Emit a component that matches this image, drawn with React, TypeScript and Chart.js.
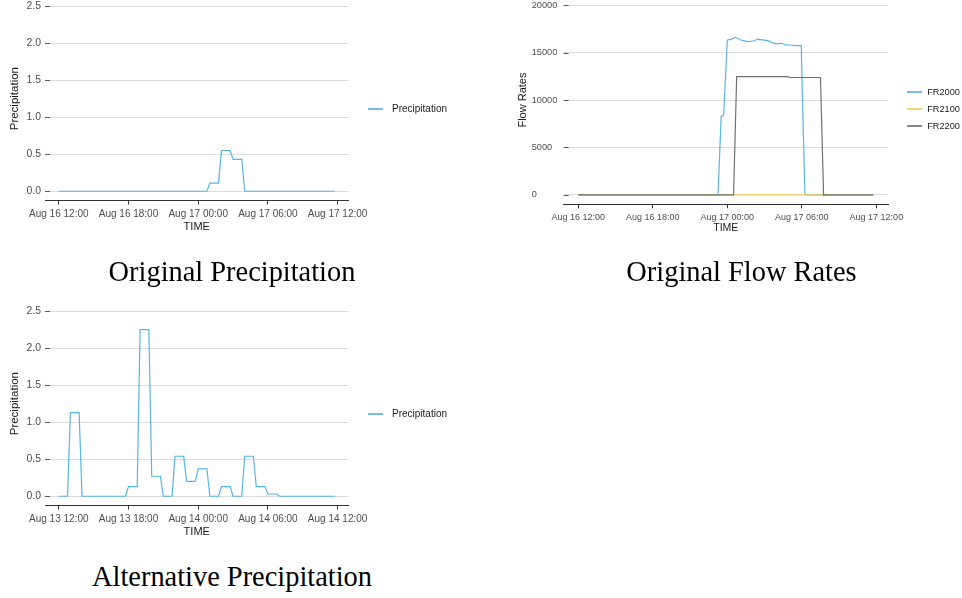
import React, { useEffect, useRef } from 'react';
import { Chart, registerables } from 'chart.js';

Chart.register(...registerables);

// ---------- data ----------
const X_TICK_HOURS = [0, 6, 12, 18, 24];
const ORIG_X_TICK_LABELS = ['Aug 16 12:00', 'Aug 16 18:00', 'Aug 17 00:00', 'Aug 17 06:00', 'Aug 17 12:00'];
const ALT_X_TICK_LABELS = ['Aug 13 12:00', 'Aug 13 18:00', 'Aug 14 00:00', 'Aug 14 06:00', 'Aug 14 12:00'];
const PRECIP_Y_TICKS = [0, 0.5, 1, 1.5, 2, 2.5];
const PRECIP_Y_LABELS = ['0.0', '0.5', '1.0', '1.5', '2.0', '2.5'];
const FLOW_Y_TICKS = [0, 5000, 10000, 15000, 20000];
const FLOW_Y_LABELS = ['0', '5000', '10000', '15000', '20000'];

// hours after the first time stamp (12:00)
const origPrecipHours = [0, 12.75, 13, 13.75, 14, 14.75, 15, 15.75, 16, 23.75];
const origPrecipValues = [0, 0, 0.11, 0.11, 0.55, 0.55, 0.43, 0.43, 0, 0];

const fr2000Hours = [0, 11.25, 11.5, 11.7, 12, 12.3, 12.65, 13.1, 13.65, 14.05, 14.45, 14.85, 15.25, 15.6, 15.95, 16.35, 16.7, 17.1, 17.5, 17.95, 18.05, 18.25, 23.75];
const fr2000Values = [0, 0, 8250, 8400, 16340, 16410, 16620, 16340, 16160, 16230, 16410, 16340, 16270, 16060, 15920, 15990, 15810, 15810, 15740, 15740, 10000, 0, 0];
const fr2100Hours = [0, 23.75];
const fr2100Values = [0, 0];
const fr2200Hours = [0, 12.5, 12.75, 16.85, 17.0, 19.5, 19.75, 23.75];
const fr2200Values = [0, 0, 12470, 12470, 12400, 12380, 0, 0];

const altPrecipHours = [0, 0.75, 1, 1.75, 2, 5.75, 6, 6.75, 7, 7.75, 8, 8.75, 9, 9.75, 10, 10.75, 11, 11.75, 12, 12.75, 13, 13.75, 14, 14.75, 15, 15.75, 16, 16.75, 17, 17.75, 18, 18.75, 19, 23.75];
const altPrecipValues = [0, 0, 1.13, 1.13, 0, 0, 0.13, 0.13, 2.25, 2.25, 0.27, 0.27, 0, 0, 0.54, 0.54, 0.2, 0.2, 0.37, 0.37, 0, 0, 0.13, 0.13, 0, 0, 0.54, 0.54, 0.13, 0.13, 0.03, 0.03, 0, 0];

const BLUE = '#56B4E9';
const YELLOW = '#F3CF55';
const GREY = '#707070';

const FONT = '"Liberation Sans", Arial, Helvetica, sans-serif';
const SERIF = '"Liberation Serif", "DejaVu Serif", serif';

type Series = { label: string; hours: number[]; values: number[]; color: string; order: number };

interface PanelSpec {
  left: number; top: number; width: number; height: number;
  pad: { left: number; right: number; top: number; bottom: number };
  yWidth: number; xHeight: number;
  yMin: number; yMax: number; yTicks: number[]; yTickLabels: string[];
  xTickLabels: string[];
  yTitle: string; yTitleSize: number; yTitlePad: number;
  xTitleSize: number; yTickSize: number; xTickSize: number; xTickPad: number; yTickPad: number;
  yCrossAlign: 'near' | 'far';
  series: Series[];
}

const yTickMarks = {
  id: 'yTickMarks',
  afterDraw(chart: any) {
    const y = chart.scales.y;
    const { ctx, chartArea } = chart;
    ctx.save();
    ctx.strokeStyle = '#5a5a5a';
    ctx.lineWidth = 1;
    y.ticks.forEach((t: any) => {
      const py = Math.round(y.getPixelForValue(t.value)) + 0.5;
      ctx.beginPath();
      ctx.moveTo(chartArea.left, py);
      ctx.lineTo(chartArea.left + 5, py);
      ctx.stroke();
    });
    ctx.restore();
  },
};

function Panel({ spec }: { spec: PanelSpec }) {
  const ref = useRef<HTMLCanvasElement | null>(null);
  useEffect(() => {
    const canvas = ref.current;
    if (!canvas) return;
    const span = Math.max(...spec.series.map((s) => Math.max(...s.hours)));
    const chart = new Chart(canvas, {
      type: 'line',
      data: {
        datasets: spec.series.map((s) => ({
          label: s.label,
          data: s.hours.map((h, i) => ({ x: h, y: s.values[i] })),
          borderColor: s.color,
          backgroundColor: s.color,
          borderWidth: 1.2,
          pointRadius: 0,
          tension: 0,
          fill: false,
          order: s.order,
        })),
      },
      options: {
        animation: false,
        responsive: false,
        maintainAspectRatio: false,
        devicePixelRatio: 1,
        events: [],
        layout: { padding: spec.pad },
        plugins: { legend: { display: false }, tooltip: { enabled: false }, title: { display: false } },
        scales: {
          x: {
            type: 'linear',
            bounds: 'data',
            min: -0.05 * span,
            max: 1.05 * span,
            afterBuildTicks: (s: any) => { s.ticks = X_TICK_HOURS.map((v) => ({ value: v })); },
            afterFit: (s: any) => { s.height = spec.xHeight; s.paddingLeft = 0; s.paddingRight = 0; },
            ticks: {
              autoSkip: false, maxRotation: 0, minRotation: 0, padding: spec.xTickPad,
              color: '#4D4D4D', font: { family: FONT, size: spec.xTickSize },
              callback: (_v: any, i: number) => spec.xTickLabels[i],
            },
            grid: { display: true, drawOnChartArea: false, drawTicks: true, tickLength: 4, color: '#333333', tickColor: '#333333' },
            border: { display: true, color: '#333333', width: 1 },
            title: { display: true, text: 'TIME', color: '#1a1a1a', font: { family: FONT, size: spec.xTitleSize }, padding: 0 },
          },
          y: {
            type: 'linear',
            bounds: 'data',
            min: spec.yMin,
            max: spec.yMax,
            afterBuildTicks: (s: any) => { s.ticks = spec.yTicks.map((v) => ({ value: v })); },
            afterFit: (s: any) => { s.width = spec.yWidth; s.paddingTop = 0; s.paddingBottom = 0; },
            ticks: {
              padding: spec.yTickPad, crossAlign: spec.yCrossAlign,
              color: '#4D4D4D', font: { family: FONT, size: spec.yTickSize },
              callback: (_v: any, i: number) => spec.yTickLabels[i],
            },
            grid: { display: true, drawTicks: false, color: '#DCDCDC', lineWidth: 1 },
            border: { display: false },
            title: { display: true, text: spec.yTitle, color: '#1a1a1a', font: { family: FONT, size: spec.yTitleSize }, padding: { top: spec.yTitlePad, bottom: 0 } },
          },
        },
      } as any,
      plugins: [yTickMarks],
    });
    return () => chart.destroy();
  }, [spec]);
  return (
    <canvas
      ref={ref}
      width={spec.width}
      height={spec.height}
      style={{ position: 'absolute', left: spec.left, top: spec.top, width: spec.width, height: spec.height }}
    />
  );
}

function Legend({ x, y, items, size, gap, rowGap }: { x: number; y: number; items: Series[]; size: number; gap: number; rowGap: number }) {
  return (
    <>
      {items.map((s, i) => (
        <React.Fragment key={s.label}>
          <div style={{ position: 'absolute', left: Math.round(x), top: Math.round(y + i * rowGap) - 1, width: 15, height: 2, background: s.color, opacity: 0.85 }} />
          <div style={{ position: 'absolute', left: x + 15 + gap, top: y + i * rowGap - 8, height: 16, lineHeight: '16px', fontFamily: FONT, fontSize: size, color: '#1a1a1a', whiteSpace: 'nowrap' }}>
            {s.label}
          </div>
        </React.Fragment>
      ))}
    </>
  );
}

const origSeries: Series[] = [{ label: 'Precipitation', hours: origPrecipHours, values: origPrecipValues, color: BLUE, order: 0 }];
const altSeries: Series[] = [{ label: 'Precipitation', hours: altPrecipHours, values: altPrecipValues, color: BLUE, order: 0 }];
const flowSeries: Series[] = [
  { label: 'FR2000', hours: fr2000Hours, values: fr2000Values, color: BLUE, order: 2 },
  { label: 'FR2100', hours: fr2100Hours, values: fr2100Values, color: YELLOW, order: 1 },
  { label: 'FR2200', hours: fr2200Hours, values: fr2200Values, color: GREY, order: 0 },
];

const precipBase = {
  width: 385, height: 260,
  pad: { left: 0, right: 36.5, top: 16.8, bottom: 6.4 },
  yWidth: 45, xHeight: 33.1,
  yMin: -0.125, yMax: 2.625, yTicks: PRECIP_Y_TICKS, yTickLabels: PRECIP_Y_LABELS,
  yTitle: 'Precipitation', yTitleSize: 11.5, yTitlePad: 8.1,
  xTitleSize: 11, yTickSize: 10.4, xTickSize: 10, xTickPad: 3.8, yTickPad: 4,
  yCrossAlign: 'near' as const,
};

const origSpec: PanelSpec = { ...precipBase, left: 0, top: -20, xTickLabels: ORIG_X_TICK_LABELS, series: origSeries };
const altSpec: PanelSpec = { ...precipBase, left: 0, top: 285, xTickLabels: ALT_X_TICK_LABELS, series: altSeries };
const flowSpec: PanelSpec = {
  left: 480, top: -20, width: 430, height: 260,
  pad: { left: 51.7, right: 22, top: 15.8, bottom: 5.7 },
  yWidth: 31.9, xHeight: 30,
  yMin: -1000, yMax: 21000, yTicks: FLOW_Y_TICKS, yTickLabels: FLOW_Y_LABELS,
  xTickLabels: ORIG_X_TICK_LABELS,
  yTitle: 'Flow Rates', yTitleSize: 11, yTitlePad: -15,
  xTitleSize: 10.5, yTickSize: 9.2, xTickSize: 9, xTickPad: 3.6, yTickPad: 2,
  yCrossAlign: 'far',
  series: flowSeries,
};

const CAPTIONS = ['Original Precipitation', 'Original Flow Rates', 'Alternative Precipitation'];

function Caption({ text, cx, baseline }: { text: string; cx: number; baseline: number }) {
  return (
    <div style={{ position: 'absolute', left: cx - 200, width: 400, top: baseline - 23.8, textAlign: 'center', fontFamily: SERIF, fontSize: 28.4, lineHeight: '28.4px', color: '#000', whiteSpace: 'nowrap' }}>
      {text}
    </div>
  );
}

export default function App() {
  return (
    <div style={{ position: 'absolute', left: 0, top: 0, width: 962, height: 598, overflow: 'hidden', background: '#fff' }}>
      <Panel spec={origSpec} />
      <Panel spec={flowSpec} />
      <Panel spec={altSpec} />
      <Legend x={368} y={108.7} items={origSeries} size={10} gap={9} rowGap={17} />
      <Legend x={906.7} y={92} items={flowSeries} size={9.2} gap={5.5} rowGap={17.2} />
      <Legend x={368} y={414.3} items={altSeries} size={10} gap={9} rowGap={17} />
      <Caption text={CAPTIONS[0]} cx={232} baseline={282} />
      <Caption text={CAPTIONS[1]} cx={741.5} baseline={282} />
      <Caption text={CAPTIONS[2]} cx={232} baseline={587} />
    </div>
  );
}
